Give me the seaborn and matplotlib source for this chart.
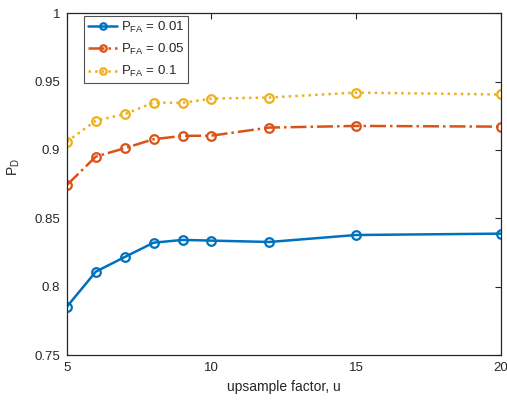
import matplotlib
matplotlib.use("Agg")
import matplotlib.pyplot as plt
import seaborn as sns
import pandas as pd

# Detection probability vs. upsampling factor for three false-alarm rates
upsample = [5, 6, 7, 8, 9, 10, 12, 15, 20]
pd_fa_001 = [0.7854, 0.8110, 0.8217, 0.8322, 0.8342, 0.8337, 0.8327, 0.8378, 0.8388]
pd_fa_005 = [0.8744, 0.8952, 0.9013, 0.9079, 0.9103, 0.9105, 0.9164, 0.9176, 0.9171]
pd_fa_01 = [0.9061, 0.9215, 0.9262, 0.9347, 0.9345, 0.9376, 0.9384, 0.9420, 0.9406]
labels = [r"$\mathrm{P}_{\mathrm{FA}}$ = 0.01",
          r"$\mathrm{P}_{\mathrm{FA}}$ = 0.05",
          r"$\mathrm{P}_{\mathrm{FA}}$ = 0.1"]

sns.set_theme(style="white")
plt.rcParams["font.family"] = ["Liberation Sans", "DejaVu Sans"]
plt.rcParams["mathtext.fontset"] = "custom"
plt.rcParams["mathtext.rm"] = "Liberation Sans"
plt.rcParams["mathtext.it"] = "Liberation Sans:italic"

fig = plt.figure(figsize=(5.07, 4.01), dpi=100)
ax = fig.add_axes([0.1321, 0.1147, 0.8551, 0.8521])

colors = ["#0072BD", "#D95319", "#EDB120"]
styles = ["-", "-.", ":"]
for vals, lab, c, ls in zip([pd_fa_001, pd_fa_005, pd_fa_01], labels, colors, styles):
    df = pd.DataFrame({"u": upsample, "pd": vals})
    sns.lineplot(data=df, x="u", y="pd", ax=ax, color=c, linestyle=ls,
                 linewidth=1.8, marker="o", markersize=6.2, markeredgewidth=1.6,
                 markerfacecolor="none", markeredgecolor=c, label=lab)

ax.set_xlim(5, 20)
ax.set_ylim(0.75, 1.0)
ax.set_xticks([5, 10, 15, 20])
ax.set_yticks([0.75, 0.8, 0.85, 0.9, 0.95, 1.0])
ax.set_yticklabels(["0.75", "0.8", "0.85", "0.9", "0.95", "1"])
ax.tick_params(direction="in", length=4, width=0.8, colors="#262626",
               labelsize=9.5, top=True, right=True, pad=5)
for sp in ax.spines.values():
    sp.set_color("#262626")
    sp.set_linewidth(0.9)

ax.set_xlabel("upsample factor, u", fontsize=10, color="#262626", labelpad=4)
ax.set_ylabel(r"$\mathrm{P}_{\mathrm{D}}$", fontsize=10, color="#262626")
ax.yaxis.set_label_coords(-0.103, 0.55)

leg = ax.legend(loc="upper left", bbox_to_anchor=(0.04, 0.993), fontsize=9.5,
                frameon=True, fancybox=False, edgecolor="#262626",
                handlelength=2.2, borderpad=0.3, labelspacing=0.55,
                handletextpad=0.25, borderaxespad=0.0, markerscale=0.75)
leg.get_frame().set_linewidth(0.8)

fig.savefig("out.png", dpi=100)
